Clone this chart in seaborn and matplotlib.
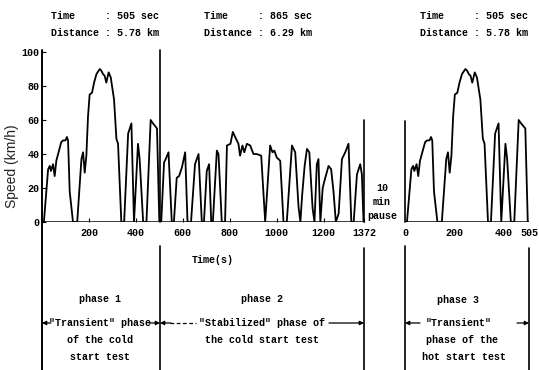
import matplotlib
matplotlib.use("Agg")
import matplotlib.pyplot as plt
import seaborn as sns
import pandas as pd
from matplotlib.lines import Line2D
from matplotlib.patches import FancyArrowPatch

# ---- data ----
phase1_time = [0, 8, 26, 33, 38, 47, 54, 61, 82, 90, 100, 106, 111, 118, 132,
               150, 168, 175, 182, 189, 196, 203, 213, 222, 232, 246, 253, 260,
               267, 274, 284, 293, 307, 317, 324, 338, 350, 367, 381, 392, 409,
               416, 431, 445, 463, 473, 490, 500, 505]
phase1_speed = [0, 0, 31, 33, 30, 34, 27, 36, 47, 48, 48, 50, 48, 18, 0,
                0, 37, 41, 29, 39, 62, 75, 76, 82, 87, 90, 89, 87,
                86, 82, 88, 85, 72, 49, 46, 0, 0, 52, 58, 0, 46,
                37, 0, 0, 60, 58, 55, 0, 0]
phase2_time = [508, 520, 527, 539, 553, 562, 574, 584, 596, 610, 620, 635, 652,
               667, 681, 690, 702, 712, 721, 728, 745, 752, 766, 780, 788, 803,
               813, 823, 837, 844, 854, 862, 873, 887, 901, 915, 934, 951, 972,
               982, 990, 1000, 1015, 1029, 1043, 1065, 1079, 1093, 1101, 1108,
               1119, 1129, 1139, 1153, 1161, 1171, 1178, 1181, 1186, 1196, 1205,
               1221, 1232, 1242, 1252, 1264, 1278, 1292, 1306, 1318, 1328, 1342,
               1356, 1363, 1370, 1372]
phase2_speed = [0, 35, 37, 41, 0, 0, 26, 27, 32, 41, 0, 0, 34,
                40, 0, 0, 30, 34, 0, 0, 42, 40, 0, 0, 45, 46,
                53, 50, 46, 39, 45, 41, 46, 45, 40, 40, 39, 0, 45,
                41, 42, 38, 36, 0, 0, 45, 41, 9, 0, 15,
                33, 43, 41, 8, 0, 34, 37, 22, 0, 20, 25,
                33, 31, 18, 0, 5, 37, 41, 46, 0, 0, 28,
                34, 28, 0, 0]
# hot start (phase 3) repeats the phase-1 schedule
phase3_time = list(phase1_time)
phase3_speed = list(phase1_speed)

cold_ticks = [200, 400, 600, 800, 1000, 1200, 1372]
hot_ticks = [0, 200, 400, 505]
speed_ticks = [0, 20, 40, 60, 80, 100]

headers = [("Time     : 505 sec\nDistance : 5.78 km", 51),
           ("Time     : 865 sec\nDistance : 6.29 km", 204),
           ("Time     : 505 sec\nDistance : 5.78 km", 420)]

cold = pd.DataFrame({"t": phase1_time + phase2_time,
                     "v": phase1_speed + phase2_speed})
hot = pd.DataFrame({"t": phase3_time, "v": phase3_speed})

# ---- figure ----
sns.set_theme(style="white")
W, H = 539, 370
MONO = "Liberation Mono"
FS = 7.2
FW = "bold"
fig = plt.figure(figsize=(W / 100, H / 100), dpi=100)
fig.patch.set_facecolor("white")


def fx(x):
    return x / W


def fy(y):
    return 1 - y / H


def add_ax(x0, x1, y_top, y_bot):
    return fig.add_axes([fx(x0), fy(y_bot), fx(x1) - fx(x0), fy(y_top) - fy(y_bot)])


ax1 = add_ax(42, 364, 52, 222)
ax3 = add_ax(405, 529, 52, 222)

sns.lineplot(data=cold, x="t", y="v", ax=ax1, color="black", lw=1.3,
             sort=False, estimator=None)
sns.lineplot(data=hot, x="t", y="v", ax=ax3, color="black", lw=1.3,
             sort=False, estimator=None)

for ax, xmax in ((ax1, 1372), (ax3, 505)):
    ax.set_xlim(0, xmax)
    ax.set_ylim(0, 100)
    ax.set_facecolor("none")
    for s in ax.spines.values():
        s.set_visible(False)
    ax.set_xlabel("")
    ax.set_ylabel("")
    ax.axhline(0, color="black", lw=1.8, zorder=5)

ax1.set_xticks(cold_ticks)
ax1.set_xticklabels([str(t) for t in cold_ticks], fontfamily=MONO, fontsize=FS,
                    fontweight=FW)
ax1.set_yticks(speed_ticks)
ax1.set_yticklabels([str(t) for t in speed_ticks], fontfamily=MONO, fontsize=FS,
                    fontweight=FW)
ax1.tick_params(axis="both", direction="in", length=3, width=0.8, color="black",
                pad=2, labelcolor="black", left=True, bottom=True)
ax1.tick_params(axis="x", pad=4)

ax3.set_xticks(hot_ticks)
ax3.set_xticklabels([str(t) for t in hot_ticks], fontfamily=MONO, fontsize=FS,
                    fontweight=FW)
ax3.set_yticks([])
ax3.tick_params(axis="x", direction="in", length=0, pad=4, labelcolor="black")


def vline(x, y0, y1, lw=1.2):
    fig.add_artist(Line2D([fx(x), fx(x)], [fy(y0), fy(y1)],
                          transform=fig.transFigure, color="black", lw=lw))


def hline(x0, x1, y, ls="-"):
    fig.add_artist(Line2D([fx(x0), fx(x1)], [fy(y), fy(y)],
                          transform=fig.transFigure, color="black", lw=0.9, ls=ls))


def arrow(x_from, x_to, y):
    fig.add_artist(FancyArrowPatch((fx(x_from), fy(y)), (fx(x_to), fy(y)),
                                   transform=fig.transFigure, arrowstyle="-|>",
                                   mutation_scale=6, color="black", lw=0.9,
                                   shrinkA=0, shrinkB=0))


def label(x, y, s, **kw):
    fig.text(fx(x), fy(y), s, ha=kw.pop("ha", "center"), va=kw.pop("va", "center"),
             fontfamily=MONO, fontsize=FS, fontweight=FW, color="black", **kw)


# axis / boundary lines
vline(42, 50, 370, lw=1.4)
vline(160, 50, 222)
vline(160, 246, 370)
vline(364, 120, 222)
vline(364, 248, 370)
vline(405, 121, 222)
vline(405, 246, 370)
vline(529, 248, 370)

# header texts
for txt, x in headers:
    label(x, 11, txt, ha="left", va="top", linespacing=1.9)

fig.text(fx(12), fy(166), "Speed (km/h)", rotation=90, ha="center", va="center",
         fontfamily="Liberation Sans", fontsize=10, color="#222222")

label(382, 202, "10\nmin\npause", linespacing=1.5)
label(213, 260, "Time(s)")

# phase labels
label(100, 299, "phase 1")
label(262, 299, "phase 2")
label(458, 300, "phase 3")

label(100, 323, "\"Transient\" phase")
label(100, 340, "of the cold")
label(100, 357, "start test")

label(262, 323, "\"Stabilized\" phase of")
label(262, 340, "the cold start test")

label(459, 323, "\"Transient\"")
label(462, 340, "phase of the")
label(464, 357, "hot start test")

# arrows
arrow(51, 42, 323)
arrow(149, 160, 323)
hline(170, 196, 323, ls=(0, (3, 2)))
arrow(171, 160, 323)
arrow(329, 364, 323)
arrow(420, 405, 323)
arrow(517, 529, 323)

fig.savefig("out.png", dpi=100, facecolor="white")
